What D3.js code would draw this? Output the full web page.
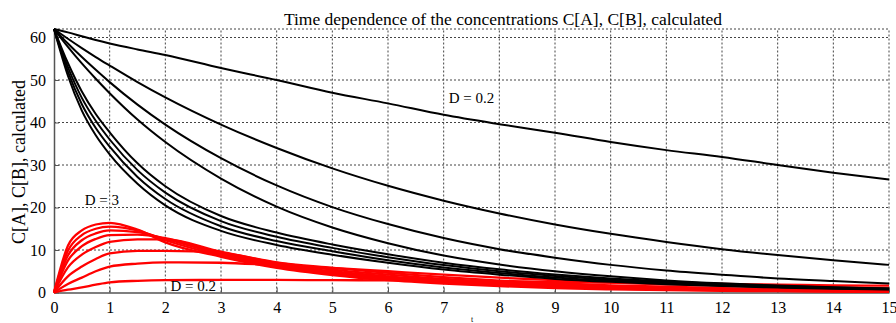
<!DOCTYPE html>
<html>
<head>
<meta charset="utf-8">
<script src="https://cdn.jsdelivr.net/npm/d3@7"></script>
<style>
  body { margin: 0; background: #fff; }
  text { font-family: "Liberation Serif", "DejaVu Serif", serif; }
</style>
</head>
<body>
<div id="container"></div>
<script>
var width = 896;
var height = 323;

var times = [0, 0.25, 0.5, 0.75, 1, 1.5, 2, 3, 4, 5, 6, 7, 8, 9, 10, 11, 12, 13, 14, 15];

// C[A], black curves, slowest (D = 0.2) first
var concA = [
    [62, 61.2, 60.3, 59.4, 58.6, 57.2, 55.9, 52.8, 50.0, 47.0, 44.5, 41.8, 39.6, 37.6, 35.4, 33.5, 31.9, 30.0, 28.2, 26.6],
    [62, 59.7, 57.5, 55.4, 53.4, 49.5, 45.9, 39.5, 34.0, 29.2, 25.1, 21.6, 18.6, 16.0, 13.8, 11.9, 10.2, 8.8, 7.6, 6.5],
    [62, 58.6, 55.4, 52.4, 49.5, 44.2, 39.5, 31.6, 25.2, 20.1, 16.1, 12.8, 10.2, 8.2, 6.5, 5.2, 4.2, 3.3, 2.7, 2.1],
    [62, 57.8, 53.9, 50.3, 46.9, 40.7, 35.4, 26.8, 20.2, 15.3, 11.6, 8.7, 6.6, 5.0, 3.8, 2.85, 2.15, 1.63, 1.23, 0.93],
    [62, 54, 47.3, 42.0, 37.7, 30.4, 25.0, 18.0, 14.1, 11.3, 9.0, 7.0, 5.45, 4.25, 3.3, 2.57, 2.0, 1.55, 1.2, 0.93],
    [62, 53, 45.8, 40.4, 36.0, 28.8, 23.5, 16.8, 13.1, 10.5, 8.3, 6.45, 5.0, 3.9, 3.0, 2.33, 1.8, 1.4, 1.08, 0.84],
    [62, 52, 44.3, 38.7, 34.3, 27.2, 22.0, 15.6, 12.1, 9.7, 7.6, 5.9, 4.6, 3.55, 2.75, 2.12, 1.64, 1.27, 0.98, 0.76],
    [62, 51, 42.8, 37.0, 32.5, 25.6, 20.5, 14.5, 11.2, 8.9, 7.0, 5.4, 4.2, 3.2, 2.5, 1.95, 1.5, 1.17, 0.9, 0.7]
];

// C[B], red curves, D = 0.2 first
var concB = [
    [0, 0.65, 1.2, 1.85, 2.4, 2.75, 2.9, 2.95, 2.95, 2.9, 2.85, 2.75, 2.6, 2.45, 2.3, 2.15, 2.0, 1.85, 1.7, 1.6],
    [0, 2.0, 3.5, 5.0, 6.1, 6.8, 7.1, 7.0, 6.4, 5.8, 5.0, 4.2, 3.5, 2.9, 2.3, 1.9, 1.6, 1.35, 1.15, 0.95],
    [0, 3.8, 6.1, 7.9, 9.2, 9.8, 9.8, 9.3, 7.1, 5.8, 4.6, 3.6, 2.8, 2.2, 1.7, 1.35, 1.05, 0.8, 0.65, 0.5],
    [0, 5.9, 8.9, 10.7, 11.9, 12.5, 12.5, 9.6, 7.0, 5.4, 4.2, 3.2, 2.5, 1.9, 1.4, 1.1, 0.85, 0.65, 0.5, 0.4],
    [0, 7.5, 10.9, 12.6, 13.5, 13.6, 12.8, 9.3, 6.7, 5.0, 3.8, 2.9, 2.2, 1.65, 1.2, 0.92, 0.7, 0.52, 0.4, 0.3],
    [0, 8.7, 12.3, 13.9, 14.6, 14.2, 12.6, 9.0, 6.4, 4.7, 3.5, 2.6, 1.95, 1.45, 1.05, 0.8, 0.6, 0.45, 0.34, 0.25],
    [0, 9.8, 13.5, 15.0, 15.5, 14.6, 12.3, 8.7, 6.1, 4.4, 3.2, 2.35, 1.75, 1.25, 0.9, 0.68, 0.5, 0.37, 0.27, 0.2],
    [0, 11.0, 14.6, 16.0, 16.4, 14.8, 11.8, 8.4, 5.8, 4.1, 2.9, 2.1, 1.5, 1.05, 0.75, 0.55, 0.4, 0.3, 0.2, 0.15]
];

var xTicks = [0, 1, 2, 3, 4, 5, 6, 7, 8, 9, 10, 11, 12, 13, 14, 15];
var yTicks = [0, 10, 20, 30, 40, 50, 60];

var curveLabels = [
    {text: 'D = 0.2', t: 7.5, c: 44.6},
    {text: 'D = 3', t: 0.86, c: 20.6},
    {text: 'D = 0.2', t: 2.5, c: 0.4}
];

var titleText = 'Time dependence of the concentrations C[A], C[B], calculated';
var yLabelText = 'C[A], C[B], calculated';

var margin = {left: 54, right: 7, top: 29, bottom: 30.5};

var x = d3.scaleLinear()
    .domain([0, 15])
    .range([margin.left, width - margin.right]);

var y = d3.scaleLinear()
    .domain([0, 62])
    .range([height - margin.bottom, margin.top]);

var svg = d3.select('#container').append('svg')
    .attr('width', width)
    .attr('height', height);

// grid, top and right edges are dashed like the grid
var grid = svg.append('g');
grid.selectAll('line.gx')
    .data(xTicks.slice(1))
    .enter().append('line')
    .attr('class', 'gx')
    .attr('x1', function (d) { return x(d); })
    .attr('x2', function (d) { return x(d); })
    .attr('y1', y(0))
    .attr('y2', y(62))
    .attr('stroke', '#444')
    .attr('stroke-width', 1)
    .attr('stroke-dasharray', '2,2');

grid.selectAll('line.gy')
    .data(yTicks.slice(1).concat([62]))
    .enter().append('line')
    .attr('class', 'gy')
    .attr('x1', x(0))
    .attr('x2', x(15))
    .attr('y1', function (d) { return y(d); })
    .attr('y2', function (d) { return y(d); })
    .attr('stroke', '#444')
    .attr('stroke-width', 1)
    .attr('stroke-dasharray', '2,2');

// axes
var xAxis = d3.axisBottom(x)
    .tickValues(xTicks)
    .tickSizeInner(-5)
    .tickSizeOuter(0)
    .tickPadding(9)
    .tickFormat(d3.format('d'));

var yAxis = d3.axisLeft(y)
    .tickValues(yTicks)
    .tickSizeInner(-5)
    .tickSizeOuter(0)
    .tickPadding(8)
    .tickFormat(d3.format('d'));

var gx = svg.append('g')
    .attr('transform', 'translate(0,' + y(0) + ')')
    .call(xAxis);
var gy = svg.append('g')
    .attr('transform', 'translate(' + x(0) + ',0)')
    .call(yAxis);

[gx, gy].forEach(function (g) {
    g.select('.domain').attr('stroke', '#555').attr('stroke-width', 1.5);
    g.selectAll('.tick line').attr('stroke', '#555');
    g.selectAll('.tick text')
        .attr('fill', '#000')
        .style('font-size', '16px')
        .style('font-family', '"Liberation Serif", serif');
});

// curves
var line = d3.line()
    .x(function (d, i) { return x(times[i]); })
    .y(function (d) { return y(d); })
    .curve(d3.curveMonotoneX);

svg.append('g').selectAll('path')
    .data(concB)
    .enter().append('path')
    .attr('d', line)
    .attr('fill', 'none')
    .attr('stroke', '#ff0000')
    .attr('stroke-width', 2.3);

svg.append('g').selectAll('path')
    .data(concA)
    .enter().append('path')
    .attr('d', line)
    .attr('fill', 'none')
    .attr('stroke', '#000')
    .attr('stroke-width', 2);

// labels
svg.append('g').selectAll('text')
    .data(curveLabels)
    .enter().append('text')
    .attr('x', function (d) { return x(d.t); })
    .attr('y', function (d) { return y(d.c); })
    .attr('text-anchor', 'middle')
    .style('font-size', '15px')
    .text(function (d) { return d.text; });

svg.append('text')
    .attr('x', 503)
    .attr('y', 25)
    .attr('text-anchor', 'middle')
    .style('font-size', '17.5px')
    .text(titleText);

svg.append('text')
    .attr('transform', 'translate(25,' + 162 + ') rotate(-90)')
    .attr('text-anchor', 'middle')
    .style('font-size', '18px')
    .text(yLabelText);

// axis name, mostly cut off at the bottom edge in the original
svg.append('text')
    .attr('x', 472)
    .attr('y', 322)
    .attr('text-anchor', 'middle')
    .style('font-size', '8px')
    .text('t');
</script>
</body>
</html>
